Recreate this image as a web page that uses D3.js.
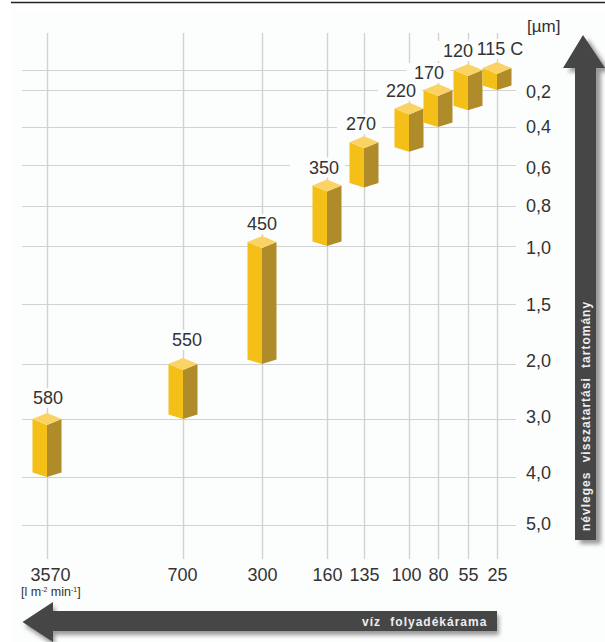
<!DOCTYPE html>
<html>
<head>
<meta charset="utf-8">
<script src="https://cdnjs.cloudflare.com/ajax/libs/d3/7.8.5/d3.min.js"></script>
<style>
  body { margin: 0; background: #fff; }
  svg { display: block; }
  text { font-family: "Liberation Sans", Arial, sans-serif; fill: #333; }
  .domain { display: none; }
  .tick line { stroke: #d2d2d2; }
  .tick text { font-size: 18px; fill: #333; }
  .arrowText { font-weight: bold; font-size: 12px; fill: #eee; letter-spacing: 1px; word-spacing: 5px; }
</style>
</head>
<body>
<svg width="605" height="642"></svg>
<script>
  // flow axis (l m-2 min-1) and retention axis (um), both are uneven in the original
  var flowTicks = [3570, 700, 300, 160, 135, 100, 80, 55, 25];
  var sizeTicks = [0.1, 0.2, 0.4, 0.6, 0.8, 1.0, 1.5, 2.0, 3.0, 4.0, 5.0];

  // one bar per filter grade
  var grades = ["580", "550", "450", "350", "270", "220", "170", "120", "115 C"];
  var gradeFlow = [3570, 700, 300, 160, 135, 100, 80, 55, 25];
  var sizeLow = [3.0, 2.0, 0.98, 0.7, 0.48, 0.3, 0.2, 0.1, 0.09];
  var sizeHigh = [4.0, 3.0, 2.0, 1.0, 0.71, 0.53, 0.4, 0.31, 0.2];

  // hand placement of the labels
  var labelDx = [1, 4, 0, -3, -3, -8, -9, -10, 3];
  var labelDy = [9, 12, 6, 6, 6, 6, 5, 7, 7];
  var labelPadLeft = [8, 8, 8, 19, 9, 8, 8, 8, 8];
  var flowDx = [3, -1, 0, 0, 0, -3, 0, 0, 0];
  var sizeDy = [0, 2, 0, 3, 0, 2, 1, -3, -2, -4, -1];

  var svg = d3.select("svg");

  var x = d3.scaleLinear().domain(flowTicks).range([47, 183, 262, 327, 364, 409, 438, 468, 497]);
  var y = d3.scaleLinear().domain(sizeTicks).range([70, 90, 127, 165, 206, 246, 304, 364, 419, 477, 525]);

  var defs = svg.append("defs");
  defs.append("filter").attr("id", "soft").attr("x", "-30%").attr("y", "-30%").attr("width", "160%").attr("height", "160%")
    .append("feGaussianBlur").attr("stdDeviation", 2);
  defs.append("filter").attr("id", "lineBlur")
    .attr("filterUnits", "userSpaceOnUse").attr("x", -700).attr("y", -700).attr("width", 1400).attr("height", 1400)
    .append("feGaussianBlur").attr("stdDeviation", 0.4);

  svg.append("rect").attr("x", 13).attr("y", 10).attr("width", 592).attr("height", 632).attr("fill", "#fcfdfd");
  svg.append("line").attr("x1", 11).attr("x2", 605).attr("y1", 2.5).attr("y2", 2.5)
    .attr("stroke", "#222").attr("stroke-width", 1.5);

  // grid comes from the axis ticks
  var xAxis = svg.append("g").attr("transform", "translate(0,559)")
    .call(d3.axisBottom(x).tickValues(flowTicks).tickFormat(d3.format("d")).tickSize(-526).tickPadding(9));
  xAxis.selectAll(".tick line").attr("stroke-width", 1.4).attr("filter", "url(#lineBlur)");
  xAxis.selectAll(".tick text").attr("dx", (d, i) => flowDx[i]);

  var yAxis = svg.append("g").attr("transform", "translate(516,0)")
    .call(d3.axisRight(y).tickValues(sizeTicks)
      .tickFormat(d => d == 0.1 ? "" : d.toFixed(1).replace(".", ","))
      .tickSize(-494).tickPadding(10));
  yAxis.selectAll(".tick line").attr("stroke", "#c6c6c6").attr("stroke-width", 1.1).attr("filter", "url(#lineBlur)")
    .attr("x2", d => d == 0.1 ? -494 : -494).attr("x1", d => d == 0.1 ? -6 : 0);
  yAxis.selectAll(".tick text").attr("y", (d, i) => sizeDy[i]);

  var bars = grades.map((g, i) => ({
    name: g,
    cx: x(gradeFlow[i]),
    top: y(sizeLow[i]),
    bottom: y(sizeHigh[i]),
    dx: labelDx[i],
    dy: labelDy[i],
    padLeft: labelPadLeft[i]
  }));

  var halfW = 14.5, rise = 6, drop = 4.5;
  var poly = pts => "M" + pts.map(p => p.join(",")).join("L") + "Z";

  // white patches under the labels, they cut the grid in the original
  var labels = svg.append("g");

  var bar = svg.append("g").selectAll("g").data(bars).enter().append("g");
  bar.append("path").attr("fill", "#f4bf17")
    .attr("d", d => poly([[d.cx - halfW, d.top], [d.cx, d.top + rise], [d.cx, d.bottom], [d.cx - halfW, d.bottom - drop]]));
  bar.append("path").attr("fill", "#b08b2a")
    .attr("d", d => poly([[d.cx + halfW, d.top], [d.cx, d.top + rise], [d.cx, d.bottom], [d.cx + halfW, d.bottom - drop]]));
  bar.append("path").attr("fill", "#fbd365")
    .attr("d", d => poly([[d.cx - halfW, d.top], [d.cx, d.top - rise], [d.cx + halfW, d.top], [d.cx, d.top + rise]]));

  var labelText = svg.append("g").selectAll("text").data(bars).enter().append("text")
    .attr("x", d => d.cx + d.dx)
    .attr("y", d => d.top - rise - d.dy)
    .attr("text-anchor", "middle")
    .style("font-size", "18px")
    .text(d => d.name);

  labelText.each(function (d) {
    var b = this.getBBox();
    labels.append("rect")
      .attr("x", b.x - d.padLeft).attr("y", b.y)
      .attr("width", b.width + d.padLeft + 6).attr("height", b.height)
      .attr("fill", "#fcfdfd");
  });

  // axis captions
  svg.append("text").attr("x", 527).attr("y", 32).style("font-size", "17px").text("[µm]");
  var unit = svg.append("text").attr("x", 21).attr("y", 596).style("font-size", "12.5px");
  unit.append("tspan").text("[l m");
  unit.append("tspan").attr("dy", -4).style("font-size", "7px").text("-2");
  unit.append("tspan").attr("dy", 4).text(" min");
  unit.append("tspan").attr("dy", -4).style("font-size", "7px").text("-1");
  unit.append("tspan").attr("dy", 4).text("]");

  // the two big arrows
  var upArrow = poly([[583, 35], [605, 68], [596, 68], [596, 540], [575, 540], [575, 68], [563, 68]]);
  var leftArrow = poly([[22.5, 622], [53, 602], [53, 611], [497, 611], [497, 631], [53, 631], [53, 642], [22.5, 622]]);

  svg.append("path").attr("d", upArrow).attr("fill", "#999").attr("filter", "url(#soft)").attr("transform", "translate(5,4)");
  svg.append("path").attr("d", leftArrow).attr("fill", "#999").attr("filter", "url(#soft)").attr("transform", "translate(2,4)");
  svg.append("path").attr("d", upArrow).attr("fill", "#464646");
  svg.append("path").attr("d", leftArrow).attr("fill", "#464646");

  svg.append("text").attr("class", "arrowText")
    .attr("transform", "translate(590,531) rotate(-90)")
    .text("névleges visszatartási tartomány");
  svg.append("text").attr("class", "arrowText")
    .attr("x", 362).attr("y", 626)
    .text("víz folyadékárama");
</script>
</body>
</html>
